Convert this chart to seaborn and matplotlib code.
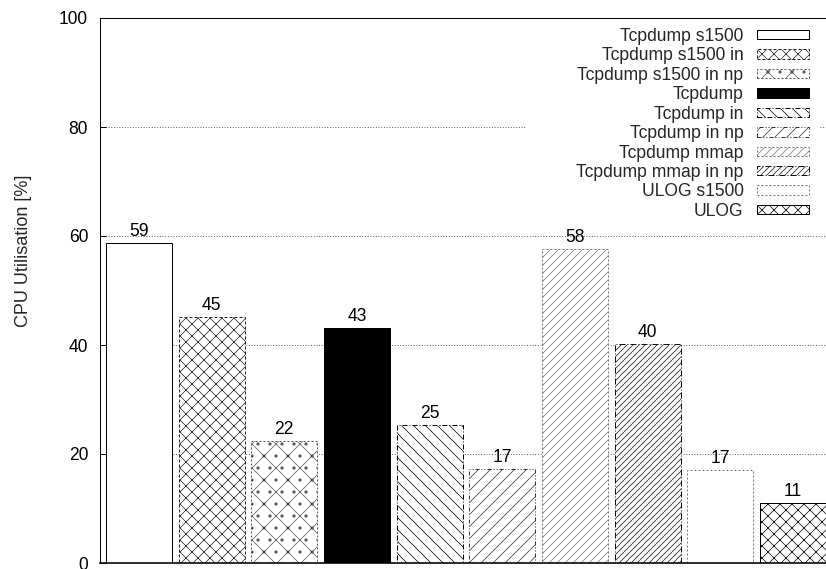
import matplotlib
matplotlib.use("Agg")
import matplotlib.pyplot as plt
import seaborn as sns
import pandas as pd

# Packet capture configurations and their measured CPU load
categories = [
    "Tcpdump s1500",
    "Tcpdump s1500 in",
    "Tcpdump s1500 in np",
    "Tcpdump",
    "Tcpdump in",
    "Tcpdump in np",
    "Tcpdump mmap",
    "Tcpdump mmap in np",
    "ULOG s1500",
    "ULOG",
]
cpu_util = [58.7, 45.2, 22.4, 43.2, 25.4, 17.2, 57.7, 40.1, 17.1, 11.1]
y_ticks = [0, 20, 40, 60, 80, 100]

# gnuplot-like fill styles: (face, edge/hatch colour, hatch, border linestyle, border width)
bar_styles = [
    ("white", "black", None, "solid", 1.0),
    ("white", "#222222", "xx", (0, (3, 2)), 1.0),
    ("white", "#555555", "x.", (0, (2, 2)), 1.0),
    ("black", "black", None, "solid", 1.0),
    ("white", "black", "\\\\", (0, (5, 2, 1, 2)), 1.0),
    ("white", "#333333", "//", (0, (4, 2, 1, 2, 1, 2)), 1.0),
    ("white", "#777777", "///", (0, (2, 2)), 1.0),
    ("white", "#111111", "////", (0, (6, 2, 1, 2)), 1.0),
    ("white", "#777777", None, (0, (2, 2)), 1.0),
    ("white", "black", "xx", "solid", 1.0),
]

sns.set_style("white")
plt.rcParams["font.family"] = ["Liberation Sans", "DejaVu Sans"]
plt.rcParams["hatch.linewidth"] = 0.7

FS = 17.5
W, H, DPI = 826, 569, 72
fig = plt.figure(figsize=(W / DPI, H / DPI), dpi=DPI)
ax = fig.add_axes([100 / W, 6 / H, 726 / W, 545 / H])

df = pd.DataFrame({"config": categories, "cpu": cpu_util})
sns.barplot(data=df, x="config", y="cpu", order=categories, color="white",
            saturation=1, width=0.908, ax=ax, zorder=2)

bars = ax.containers[0]
for patch, (face, edge, hatch, ls, lw) in zip(bars.patches, bar_styles):
    patch.set_facecolor(face)
    patch.set_edgecolor(edge)
    patch.set_hatch(hatch)
    patch.set_linestyle(ls)
    patch.set_linewidth(lw)

ax.bar_label(bars, labels=[f"{v:.0f}" for v in cpu_util], padding=3,
             fontsize=FS, color="black")

ax.set_ylim(0, 100)
ax.set_xlim(-0.536, 9.455)
ax.set_yticks(y_ticks)
ax.set_xticks([])
ax.set_xlabel("")
ax.set_ylabel("CPU Utilisation [%]", fontsize=18)
ax.yaxis.set_label_coords(-0.094, 0.572)
ax.tick_params(axis="y", direction="in", length=6, width=1, pad=12,
               labelsize=FS, colors="black", left=True)

for side in ("left", "top", "bottom"):
    ax.spines[side].set_visible(True)
    ax.spines[side].set_color("black")
    ax.spines[side].set_linewidth(1.0)
ax.spines["bottom"].set_linewidth(1.6)
ax.spines["right"].set_visible(False)

# dotted horizontal grid; the 80 % line is interrupted by the key
grid_kw = dict(color="#444444", lw=0.9, ls=(0, (1, 2)), zorder=0.5)
for v in (20, 40, 60):
    ax.axhline(v, **grid_kw)
ax.axhline(80, xmin=0, xmax=(525 - 100) / 726, **grid_kw)
ax.axhline(80, xmin=(820 - 100) / 726, xmax=1, **grid_kw)

ax.legend(handles=list(bars.patches), labels=categories, loc="upper right",
          bbox_to_anchor=(0.9766, 0.982), markerfirst=False, frameon=False,
          handlelength=3.0, handleheight=0.46, handletextpad=0.75,
          labelspacing=0.14, borderpad=0, borderaxespad=0, fontsize=FS)

fig.savefig("out.png", dpi=DPI)
